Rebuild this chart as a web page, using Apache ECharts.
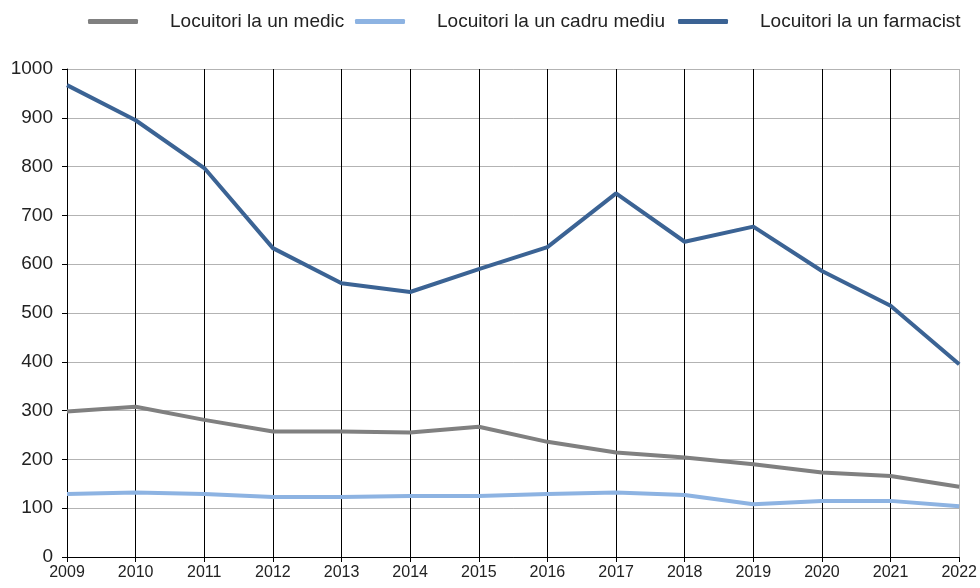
<!DOCTYPE html>
<html>
<head>
<meta charset="utf-8">
<script src="https://cdn.jsdelivr.net/npm/echarts@6/dist/echarts.min.js"></script>
<style>
  html, body { margin: 0; padding: 0; background: #fff; }
  #chart { width: 980px; height: 588px; }
</style>
</head>
<body>
<div id="chart"></div>
<script>
var years = ['2009', '2010', '2011', '2012', '2013', '2014', '2015', '2016', '2017', '2018', '2019', '2020', '2021', '2022'];
var medic = [298, 308, 281, 257, 257, 255, 267, 236, 214, 204, 190, 173, 166, 144];
var cadruMediu = [129, 132, 129, 123, 123, 125, 125, 129, 132, 127, 108, 115, 115, 104];
var farmacist = [967, 895, 797, 633, 561, 543, 590, 635, 745, 646, 677, 586, 515, 395];

var names = ['Locuitori la un medic', 'Locuitori la un cadru mediu', 'Locuitori la un farmacist'];
var colors = ['#808080', '#8db3e2', '#3b6394'];

// vertical lines: black at each year, light gray at the right edge
var vColors = years.map(function (y, i) { return i === years.length - 1 ? '#b3b3b3' : '#000'; });

var chartDom = document.getElementById('chart');
var myChart = echarts.init(chartDom);
var option;

function legendAt(left, name) {
  return {
    data: [name],
    top: 12,
    left: left,
    padding: 0,
    itemWidth: 50,
    itemHeight: 5,
    icon: 'roundRect',
    textStyle: {
      fontFamily: 'Liberation Sans, Arial, sans-serif',
      fontSize: 19,
      color: '#222',
      padding: [0, 0, 0, 27]
    }
  };
}

option = {
  animation: false,
  color: colors,
  legend: [
    legendAt(88, names[0]),
    legendAt(355, names[1]),
    legendAt(678, names[2])
  ],
  grid: {
    left: 67,
    right: 20,
    top: 69,
    bottom: 31,
    containLabel: false
  },
  xAxis: {
    type: 'category',
    data: years,
    boundaryGap: false,
    axisLine: { lineStyle: { color: '#000', width: 1 } },
    axisTick: { show: true, length: 5, lineStyle: { color: '#000' } },
    axisLabel: {
      fontFamily: 'Liberation Sans, Arial, sans-serif',
      fontSize: 16,
      color: '#222',
      margin: 8
    },
    splitLine: { show: true, lineStyle: { color: vColors, width: 1 } }
  },
  yAxis: {
    type: 'value',
    min: 0,
    max: 1000,
    interval: 100,
    axisLine: { show: true, lineStyle: { color: '#000', width: 1 } },
    axisTick: { show: true, length: 5, lineStyle: { color: '#000' } },
    axisLabel: {
      fontFamily: 'Liberation Sans, Arial, sans-serif',
      fontSize: 19,
      color: '#222',
      margin: 14,
      formatter: function (v) { return String(v); }
    },
    splitLine: { show: true, lineStyle: { color: '#b3b3b3', width: 1 } }
  },
  series: [
    {
      name: names[0],
      type: 'line',
      data: medic,
      symbol: 'none',
      lineStyle: { width: 4, color: colors[0] }
    },
    {
      name: names[1],
      type: 'line',
      data: cadruMediu,
      symbol: 'none',
      lineStyle: { width: 4, color: colors[1] }
    },
    {
      name: names[2],
      type: 'line',
      data: farmacist,
      symbol: 'none',
      lineStyle: { width: 4, color: colors[2] }
    }
  ]
};

option && myChart.setOption(option);
</script>
</body>
</html>
